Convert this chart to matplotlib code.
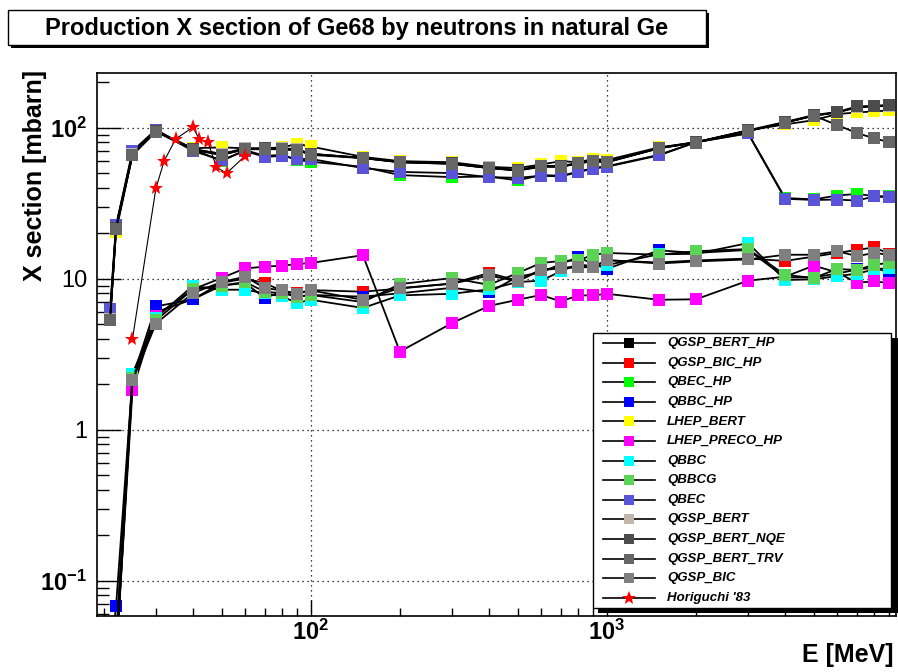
import math
import matplotlib
matplotlib.use("Agg")
import matplotlib.pyplot as plt
from matplotlib.lines import Line2D
from matplotlib.patches import Rectangle
from matplotlib.ticker import LogLocator, FuncFormatter, NullFormatter

plt.rcParams['font.family'] = ['Liberation Sans', 'DejaVu Sans']
plt.rcParams['mathtext.fontset'] = 'custom'
plt.rcParams['mathtext.rm'] = 'Liberation Sans:bold'
plt.rcParams['mathtext.it'] = 'Liberation Sans:bold:italic'
plt.rcParams['mathtext.bf'] = 'Liberation Sans:bold'

# neutron energy [MeV]
energy = [21, 22, 25, 30, 40, 50, 60, 70, 80, 90, 100, 150, 200, 300, 400,
          500, 600, 700, 800, 900, 1000, 1500, 2000, 3000, 4000, 5000, 6000,
          7000, 8000, 9000]

# cross sections [mbarn], one list per physics list
qgsp_bert_hp = [5.5, 22, 67, 95, 72, 67, 72, 72, 72, 71, 67, 63, 59, 57.5, 54,
                52, 55, 55, 58, 60, 59, 73, 80, 95, 108, 120, 126, 137, 139, 141]
qgsp_bic_hp = [0.02, 0.03, 2.1, 6.0, 7.3, 9.4, 10.0, 9.35, 8.3, 8.0, 8.4, 8.2,
               8.6, 9.3, 10.9, 9.7, 11.5, 11.8, 12.0, 12.0, 13.2, 12.8, 13.2,
               13.6, 13.1, 14.0, 14.8, 15.5, 16.1, 14.6]
qbec_hp = [6.0, 22.3, 68, 96, 72, 60, 71, 65, 66, 61, 59.5, 55, 48.5, 47, 47.5,
           44.7, 48.5, 48, 51, 54, 55.5, 66, 80, 92, 34.2, 33.5, 35.5, 36.4,
           35.2, 35]
qbbc_hp = [0.03, 0.068, 2.2, 6.55, 7.3, 9.0, 9.35, 7.45, 8.2, 7.6, 7.8, 7.6,
           8.0, 8.7, 8.1, 10.3, 11.0, 12.5, 13.9, 12.5, 11.6, 15.4, 14.8, 15.5,
           10.2, 10.2, 10.8, 11.5, 11.8, 11.0]
lhep_bert = [5.4, 20.5, 66, 95, 73, 74, 73, 73, 74, 78, 75, 64, 60, 59, 55, 54,
             57, 60, 59, 62, 61, 74, 80, 96, 105, 112, 123, 126, 128, 130]
lhep_preco_hp = [0.02, 0.03, 1.84, 5.7, 8.5, 10.1, 11.7, 12.0, 12.2, 12.5, 12.7,
                 14.3, 3.29, 5.08, 6.6, 7.25, 7.8, 7.06, 7.75, 7.75, 7.94, 7.25,
                 7.3, 9.7, 10.3, 12.2, 11.0, 9.4, 9.6, 9.35]
qbbc = [0.02, 0.04, 2.35, 5.5, 8.97, 8.45, 8.45, 8.0, 7.62, 6.9, 7.25, 6.4, 7.75,
        7.94, 8.5, 9.5, 9.7, 11.2, 12.5, 12.0, 12.3, 14.5, 14.6, 17.2, 9.8, 9.9,
        10.4, 10.8, 11.5, 11.8]
qbbcg = [0.02, 0.04, 2.2, 5.3, 8.5, 9.0, 9.5, 8.2, 8.0, 7.6, 7.8, 7.0, 9.2, 10.1,
         9.1, 10.9, 12.7, 13.1, 13.2, 14.4, 14.8, 14.4, 15.2, 15.7, 10.6, 10.1,
         11.6, 11.4, 12.4, 12.7]
qbec = [6.3, 22.5, 70, 97, 70, 61, 70, 64, 65, 62, 62, 54, 50.9, 50, 47, 46.5,
        48, 47.5, 50.8, 53.5, 55, 65.5, 80, 91.5, 33.8, 33.2, 33.4, 32.9, 35, 34.6]
qgsp_bert = [5.4, 21.8, 67, 95, 72, 67, 73, 72, 73, 72, 67, 63, 59.5, 58, 54.5,
             52, 56, 55, 58, 60.5, 59, 73.5, 80, 95, 108, 120, 126, 136, 138, 140]
qgsp_bert_nqe = [5.3, 21.5, 66, 95, 72, 66, 72, 73, 72, 71, 67, 63, 59, 58, 54,
                 52.5, 55.5, 56, 58, 60, 59.5, 73, 80, 96, 109, 121, 127, 138,
                 139, 141]
qgsp_bert_trv = [5.35, 21.4, 66, 94, 71, 66, 72, 72, 72, 71, 66, 62.8, 59, 57.7,
                 54, 52, 55.5, 55, 58.5, 60, 59, 73, 79.7, 95, 108, 120, 104, 92,
                 85, 80]
qgsp_bic = [0.02, 0.03, 2.12, 5.04, 8.03, 9.5, 10.3, 8.67, 8.36, 7.94, 8.36, 7.25,
            8.67, 9.25, 10.5, 9.6, 11.4, 11.7, 11.9, 11.9, 13.3, 12.6, 13.0, 13.4,
            14.4, 14.4, 15.2, 14.1, 14.8, 14.4]

# Horiguchi '83 measurement
exp_energy = [25, 30, 32, 35, 40, 42, 45, 48, 52, 60]
exp_xsec = [4.0, 39.7, 60.3, 84.2, 100.6, 84, 80, 54.7, 49.9, 65]

labels = ['QGSP_BERT_HP', 'QGSP_BIC_HP', 'QBEC_HP', 'QBBC_HP', 'LHEP_BERT',
          'LHEP_PRECO_HP', 'QBBC', 'QBBCG', 'QBEC', 'QGSP_BERT', 'QGSP_BERT_NQE',
          'QGSP_BERT_TRV', 'QGSP_BIC']
series = [qgsp_bert_hp, qgsp_bic_hp, qbec_hp, qbbc_hp, lhep_bert, lhep_preco_hp,
          qbbc, qbbcg, qbec, qgsp_bert, qgsp_bert_nqe, qgsp_bert_trv, qgsp_bic]
# ROOT colour indices 1..9, 11..14
colors = ['#000000', '#ff0000', '#00ff00', '#0000ff', '#ffff00', '#ff00ff',
          '#00ffff', '#59d454', '#5954d8', '#c0b6ac', '#4c4c4c', '#666666',
          '#7f7f7f']

W, H = 898, 672
fig = plt.figure(figsize=(W / 100, H / 100), dpi=100)
ax = fig.add_axes([97 / W, 1 - 615.7 / H, (896 - 97) / W, (615.7 - 72.7) / H])

for vals, col in zip(series, colors):
    ax.plot(energy, vals, color='black', lw=1.3, marker='s', ms=8.3,
            mfc=col, mec=col, mew=0)
ax.plot(exp_energy, exp_xsec, color='black', lw=0.8, marker='*', ms=11,
        mfc='red', mec='red', mew=0)

ax.set_xscale('log')
ax.set_yscale('log')
ax.set_xlim(18.97, 9480)
ax.set_ylim(0.0587, 231)

ax.grid(True, which='major', color='black', ls=(0, (1, 3)), lw=0.9)


def ylab(v, pos):
    if abs(v - 1) < 1e-9:
        return '1'
    if abs(v - 10) < 1e-9:
        return '10'
    return r'$10^{%d}$' % round(math.log10(v))


ax.yaxis.set_major_formatter(FuncFormatter(ylab))
ax.xaxis.set_major_formatter(FuncFormatter(lambda v, p: r'$10^{%d}$' % round(math.log10(v))))
ax.xaxis.set_minor_locator(LogLocator(base=10, subs=range(2, 10)))
ax.yaxis.set_minor_locator(LogLocator(base=10, subs=range(2, 10)))
ax.xaxis.set_minor_formatter(NullFormatter())
ax.yaxis.set_minor_formatter(NullFormatter())

ax.tick_params(axis='x', which='major', direction='in', length=11.5, width=1,
               labelsize=17, pad=3, top=False)
ax.tick_params(axis='x', which='minor', direction='in', length=5.5, width=1,
               top=False)
ax.tick_params(axis='y', which='major', direction='in', length=17, width=1,
               labelsize=17, pad=7, right=False)
ax.tick_params(axis='y', which='minor', direction='in', length=8.6, width=1,
               right=False)
for sp in ax.spines.values():
    sp.set_linewidth(1.2)

# axis titles, ROOT style
fig.text(35 / W, 1 - 70 / H, 'X section [mbarn]', rotation=90, ha='center',
         va='top', fontsize=18, fontweight='bold')
fig.text(893 / W, 1 - 655 / H, 'E [MeV]', ha='right', va='center',
         fontsize=18, fontweight='bold')


# title box with shadow
def px_rect(x0, y0, x1, y1, **kw):
    return Rectangle((x0 / W, 1 - y1 / H), (x1 - x0) / W, (y1 - y0) / H,
                     transform=fig.transFigure, **kw)


fig.add_artist(px_rect(11, 13, 709, 48, facecolor='black', edgecolor='none'))
fig.add_artist(px_rect(8, 10, 706, 45, facecolor='white', edgecolor='black', lw=1))
fig.text(357 / W, 1 - 28 / H, 'Production X section of Ge68 by neutrons in natural Ge',
         ha='center', va='center', fontsize=17, fontweight='bold')

# legend box with shadow
fig.add_artist(px_rect(598, 338, 899, 613, facecolor='black', edgecolor='none', zorder=5))
fig.add_artist(px_rect(593, 333, 891, 608, facecolor='white', edgecolor='black', lw=1, zorder=6))

leg_labels = labels + ["Horiguchi '83"]
leg_colors = colors + ['red']
for i, (lab, col) in enumerate(zip(leg_labels, leg_colors)):
    yy = 1 - (343 + i * 19.6) / H
    fig.add_artist(Line2D([603 / W, 655 / W], [yy, yy], color='black', lw=1.2,
                          transform=fig.transFigure, zorder=7))
    mk = '*' if i == len(labels) else 's'
    fig.add_artist(Line2D([629 / W], [yy], marker=mk, ms=10 if mk == '*' else 7.5,
                          mfc=col, mec=col, mew=0, ls='none',
                          transform=fig.transFigure, zorder=8))
    fig.text(667 / W, yy, lab, ha='left', va='center', fontsize=9.5,
             fontweight='bold', fontstyle='italic', zorder=8)

fig.savefig('out.png', dpi=100)
